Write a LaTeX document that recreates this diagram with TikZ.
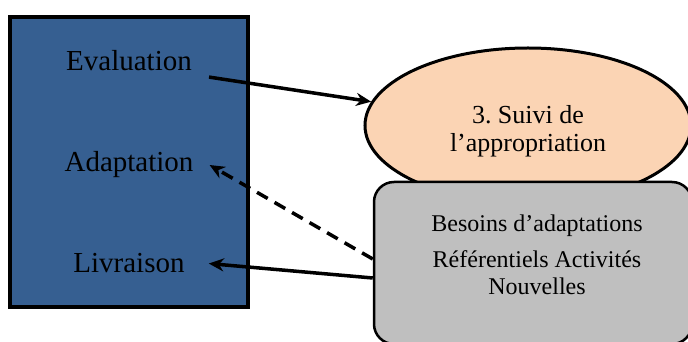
\documentclass[tikz,border=0pt]{standalone}
\usepackage{fontspec}
\setmainfont{Liberation Serif}
\frenchspacing
\usetikzlibrary{arrows.meta,shapes.geometric,positioning}

\definecolor{boxblue}{HTML}{365F91}
\definecolor{peach}{HTML}{FBD4B4}
\definecolor{boxgray}{HTML}{BFBFBF}

\begin{document}
\begin{tikzpicture}[>={Stealth[length=3mm,width=2.6mm]},
  lbl/.style={font=\fontsize{16.5}{19}\selectfont,anchor=base},
  arr/.style={->,line width=2pt}]
\path[use as bounding box,clip] (0,0) rectangle (13.76,6.84);
\draw[line width=0.08cm,fill=boxblue] (0.2,0.7) rectangle (4.96,6.5);
\foreach \n/\t/\y in {eval/Evaluation/5.42,adapt/Adaptation/3.40,livr/Livraison/1.38}
  \node[lbl] (\n) at (2.58,\y) {\t};
\node[ellipse,draw,line width=0.06cm,fill=peach,minimum width=6.52cm,minimum height=3.1cm] (suivi) at (10.56,4.33) {};
\node[align=center,font=\fontsize{14.8}{15.9}\selectfont] (suivitxt) at (10.56,4.22) {3. Suivi de\\l’appropriation};
\node[draw,line width=0.05cm,fill=boxgray,rounded corners=0.4cm,minimum width=6.36cm,minimum height=3.24cm] (box) at (10.66,1.58) {};
\node[align=center,font=\fontsize{13.66}{15.4}\selectfont] (besoins) at (10.74,1.75)
  {Besoins d’adaptations\\[5pt]Référentiels Activités\\Nouvelles};
% liens
\draw[arr] ([shift={(0.22,-0.32)}]eval.east) -- (suivi);
\draw[arr,dash pattern=on 7pt off 4.5pt] ([yshift=0.08cm]box.west) -- ([xshift=0.2cm]adapt.east);
\draw[arr] ([yshift=-0.3cm]box.west) -- ([xshift=0.36cm]livr.east);
\end{tikzpicture}
\end{document}
